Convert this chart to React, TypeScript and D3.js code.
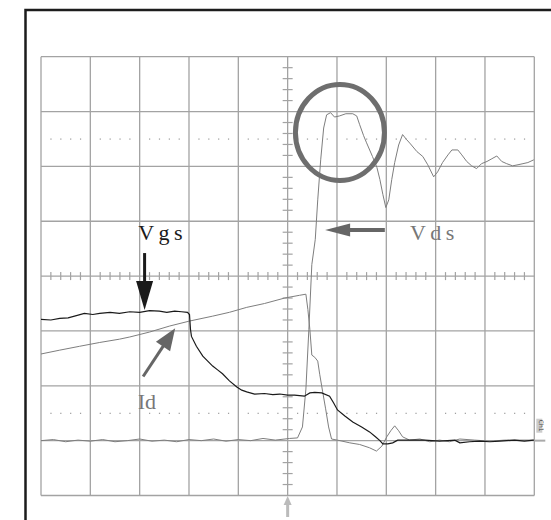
import { useRef, useEffect } from "react"
import * as d3 from "d3"

// traces in screen divisions (x: 0..10, y: -4..4)
const vdsTrace: [number, number][] = [
  [0, -3.0], [0.25, -2.98], [0.5, -3.02], [0.75, -2.99], [1.0, -3.01], [1.25, -2.98], [1.5, -3.02],
  [1.75, -3.0], [2.0, -2.97], [2.25, -3.01], [2.5, -2.99], [2.75, -3.02], [3.0, -2.98], [3.25, -3.0],
  [3.5, -2.97], [3.75, -3.01], [4.0, -2.98], [4.25, -3.0], [4.5, -2.96], [4.75, -2.99], [5.04, -2.96],
  [5.2, -2.95], [5.3, -2.75], [5.37, -2.06], [5.43, -0.97], [5.49, 0.21], [5.56, 0.67], [5.61, 1.39],
  [5.67, 2.12], [5.73, 2.7], [5.79, 2.94], [5.87, 2.98], [5.95, 2.9], [6.05, 2.92], [6.18, 2.96],
  [6.32, 2.96], [6.4, 2.92], [6.46, 2.76], [6.54, 2.56], [6.6, 2.43], [6.72, 2.18], [6.81, 1.98],
  [6.87, 1.76], [6.93, 1.49], [6.99, 1.25], [7.05, 1.39], [7.11, 1.76], [7.17, 2.07], [7.25, 2.39],
  [7.33, 2.58], [7.41, 2.49], [7.49, 2.41], [7.62, 2.27], [7.74, 2.18], [7.84, 2.03], [7.96, 1.81],
  [8.04, 1.9], [8.14, 2.07], [8.25, 2.21], [8.33, 2.3], [8.45, 2.3], [8.53, 2.21], [8.63, 2.09],
  [8.73, 2.01], [8.83, 1.96], [8.93, 2.05], [9.04, 2.09], [9.14, 2.14], [9.24, 2.19], [9.34, 2.09],
  [9.44, 2.05], [9.56, 2.01], [9.67, 2.03], [9.77, 2.05], [9.87, 2.07], [9.99, 2.12],
]

const vgsTrace: [number, number][] = [
  [0, -0.79], [0.2, -0.8], [0.38, -0.77], [0.55, -0.76], [0.68, -0.73], [0.88, -0.68], [1.05, -0.7],
  [1.19, -0.68], [1.4, -0.66], [1.59, -0.68], [1.8, -0.65], [2.0, -0.66], [2.2, -0.63], [2.4, -0.64],
  [2.55, -0.66], [2.71, -0.64], [2.85, -0.65], [2.97, -0.66], [3.01, -0.7], [3.03, -0.97], [3.05, -1.1],
  [3.15, -1.28], [3.28, -1.46], [3.38, -1.55], [3.48, -1.64], [3.58, -1.71], [3.68, -1.78], [3.82, -1.91],
  [3.97, -2.02], [4.07, -2.08], [4.17, -2.11], [4.33, -2.15], [4.53, -2.14], [4.7, -2.16], [4.84, -2.15],
  [5.0, -2.17], [5.14, -2.17], [5.34, -2.19], [5.45, -2.13], [5.55, -2.12], [5.69, -2.13], [5.85, -2.19],
  [5.93, -2.31], [6.01, -2.44], [6.16, -2.55], [6.32, -2.66], [6.5, -2.75], [6.66, -2.84], [6.78, -2.93],
  [6.87, -3.0], [6.93, -3.06], [7.03, -3.06], [7.13, -3.04], [7.23, -2.99], [7.47, -2.99], [7.78, -2.99],
  [8.08, -3.01], [8.39, -2.99], [8.49, -3.04], [8.69, -3.02], [8.89, -3.01], [9.1, -3.02], [9.3, -3.01],
  [9.6, -2.99], [9.8, -3.01], [9.99, -2.99],
]

const idTrace: [number, number][] = [
  [0, -1.42], [0.38, -1.35], [0.78, -1.28], [1.19, -1.21], [1.59, -1.15], [1.8, -1.11], [2.2, -1.02],
  [2.61, -0.91], [3.01, -0.82], [3.48, -0.73], [3.82, -0.66], [4.17, -0.57], [4.53, -0.5], [4.94, -0.4],
  [5.24, -0.35], [5.37, -0.33], [5.41, -0.61], [5.45, -0.97], [5.49, -1.44], [5.55, -1.48], [5.61, -1.55],
  [5.65, -1.79], [5.71, -2.11], [5.77, -2.42], [5.83, -2.75], [5.89, -2.97], [6.06, -3.0], [6.26, -3.04],
  [6.46, -3.07], [6.66, -3.13], [6.8, -3.19], [6.91, -3.1], [7.01, -2.93], [7.09, -2.82], [7.17, -2.73],
  [7.25, -2.82], [7.33, -2.93], [7.47, -2.99], [7.68, -2.97], [7.88, -3.02], [8.08, -2.99], [8.28, -3.02],
  [8.49, -2.97], [8.79, -2.99], [9.1, -3.01], [9.4, -2.99], [9.71, -2.99], [9.99, -2.99],
]

const xDivs = d3.range(0, 11)
const yDivs = d3.range(-4, 5)
const dottedRows = [2.5, -2.5]

const App = () => {
  const svgRef = useRef<SVGSVGElement>(null)

  useEffect(() => {
    const svg = d3.select(svgRef.current)
    svg.selectAll("*").remove()

    const x = d3.scaleLinear().domain([0, 10]).range([41, 534.3])
    const y = d3.scaleLinear().domain([-4, 4]).range([495.5, 56.7])
    const gridColor = "#a3a3a3"

    // outer frame (left and top only visible)
    svg.append("rect").attr("x", 25.5).attr("y", 10).attr("width", 600).attr("height", 600)
      .attr("fill", "none").attr("stroke", "#1c1c1c").attr("stroke-width", 2.5)

    const grid = svg.append("g")
    grid.selectAll("line.v").data(xDivs).enter().append("line")
      .attr("x1", (d) => x(d)).attr("x2", (d) => x(d)).attr("y1", y(4)).attr("y2", y(-4))
      .attr("stroke", gridColor).attr("stroke-width", 1.3)
    grid.selectAll("line.h").data(yDivs).enter().append("line")
      .attr("y1", (d) => y(d)).attr("y2", (d) => y(d)).attr("x1", x(0)).attr("x2", x(10))
      .attr("stroke", gridColor).attr("stroke-width", 1.3)

    // dotted rows
    const dots = dottedRows.flatMap((r) =>
      d3.range(0, 10).flatMap((c) => [0.2, 0.4, 0.6, 0.8].map((f) => [c + f, r])),
    )
    grid.selectAll("rect.dot").data(dots).enter().append("rect")
      .attr("x", (d) => x(d[0]) - 0.5).attr("y", (d) => y(d[1]) - 0.5)
      .attr("width", 1.2).attr("height", 1.2).attr("fill", "#999")

    // centre axis ticks
    const hTicks = d3.range(0, 10).flatMap((c) => [0.2, 0.4, 0.6, 0.8].map((f) => c + f))
    grid.selectAll("line.ht").data(hTicks).enter().append("line")
      .attr("x1", (d) => x(d)).attr("x2", (d) => x(d)).attr("y1", y(0) - 4).attr("y2", y(0) + 4)
      .attr("stroke", gridColor).attr("stroke-width", 1.2)
    const vTicks = d3.range(-4, 4).flatMap((c) => [0.2, 0.4, 0.6, 0.8].map((f) => c + f))
    grid.selectAll("line.vt").data(vTicks).enter().append("line")
      .attr("y1", (d) => y(d)).attr("y2", (d) => y(d)).attr("x1", x(5) - 5).attr("x2", x(5) + 5)
      .attr("stroke", gridColor).attr("stroke-width", 1.2)

    // ground marker on right + small label box
    svg.append("line").attr("x1", x(10)).attr("x2", x(10) + 11).attr("y1", y(-3)).attr("y2", y(-3))
      .attr("stroke", "#aaa").attr("stroke-width", 2)
    svg.append("rect").attr("x", x(10) + 2).attr("y", y(-2.6)).attr("width", 6).attr("height", 14)
      .attr("fill", "#ccc")
    svg.append("text").attr("x", x(10) + 5).attr("y", y(-2.6) + 7).attr("font-size", 6)
      .attr("text-anchor", "middle").attr("fill", "#444").attr("font-family", "DejaVu Sans")
      .attr("transform", `rotate(90, ${x(10) + 5}, ${y(-2.6) + 7})`).text("Ch1")

    // trigger arrow at bottom
    const tx = x(5)
    svg.append("line").attr("x1", tx).attr("x2", tx).attr("y1", 503).attr("y2", 517)
      .attr("stroke", "#bbb").attr("stroke-width", 3)
    svg.append("path").attr("d", `M${tx},496 L${tx - 4},505 L${tx + 4},505 Z`).attr("fill", "#bbb")

    const line = d3.line<[number, number]>().x((d) => x(d[0])).y((d) => y(d[1]))
    svg.append("path").attr("d", line(idTrace)).attr("fill", "none")
      .attr("stroke", "#7e7e7e").attr("stroke-width", 1)
    svg.append("path").attr("d", line(vdsTrace)).attr("fill", "none")
      .attr("stroke", "#7e7e7e").attr("stroke-width", 1)
    svg.append("path").attr("d", line(vgsTrace)).attr("fill", "none")
      .attr("stroke", "#1a1a1a").attr("stroke-width", 1.2)

    const arrow = (x1: number, y1: number, x2: number, y2: number, headLen: number, headW: number, w: number, color: string) => {
      const px1 = x(x1), py1 = y(y1), px2 = x(x2), py2 = y(y2)
      const ang = Math.atan2(py2 - py1, px2 - px1)
      const bx = px2 - headLen * Math.cos(ang), by = py2 - headLen * Math.sin(ang)
      const nx = -Math.sin(ang) * headW / 2, ny = Math.cos(ang) * headW / 2
      svg.append("line").attr("x1", px1).attr("y1", py1).attr("x2", bx + Math.cos(ang)).attr("y2", by + Math.sin(ang))
        .attr("stroke", color).attr("stroke-width", w)
      svg.append("path").attr("d", `M${px2},${py2} L${bx + nx},${by + ny} L${bx - nx},${by - ny} Z`).attr("fill", color)
    }

    arrow(2.1, 0.42, 2.1, -0.62, 29, 17, 3, "#1a1a1a")
    arrow(6.97, 0.84, 5.76, 0.84, 25, 13, 4, "#666")
    arrow(2.07, -1.83, 2.72, -0.95, 22, 17, 3, "#666")

    const label = (t: string, lx: number, ly: number, color: string, sp: number) =>
      svg.append("text").attr("x", x(lx)).attr("y", y(ly)).attr("fill", color)
        .attr("font-family", "Liberation Serif").attr("font-size", 22).attr("letter-spacing", sp).text(t)
    label("Vgs", 1.97, 0.66, "#1a1a1a", 4.5)
    label("Vds", 7.48, 0.66, "#777", 4.5)
    label("Id", 1.96, -2.42, "#777", 0)

    // highlight circle
    svg.append("ellipse").attr("cx", x(6.06)).attr("cy", y(2.62)).attr("rx", 44.5).attr("ry", 48)
      .attr("fill", "none").attr("stroke", "#6e6e6e").attr("stroke-width", 5)
  }, [])

  return (
    <svg ref={svgRef} width={551} height={520}
      style={{ position: "absolute", left: 0, top: 0, background: "#fff" }} />
  )
}

export default App
